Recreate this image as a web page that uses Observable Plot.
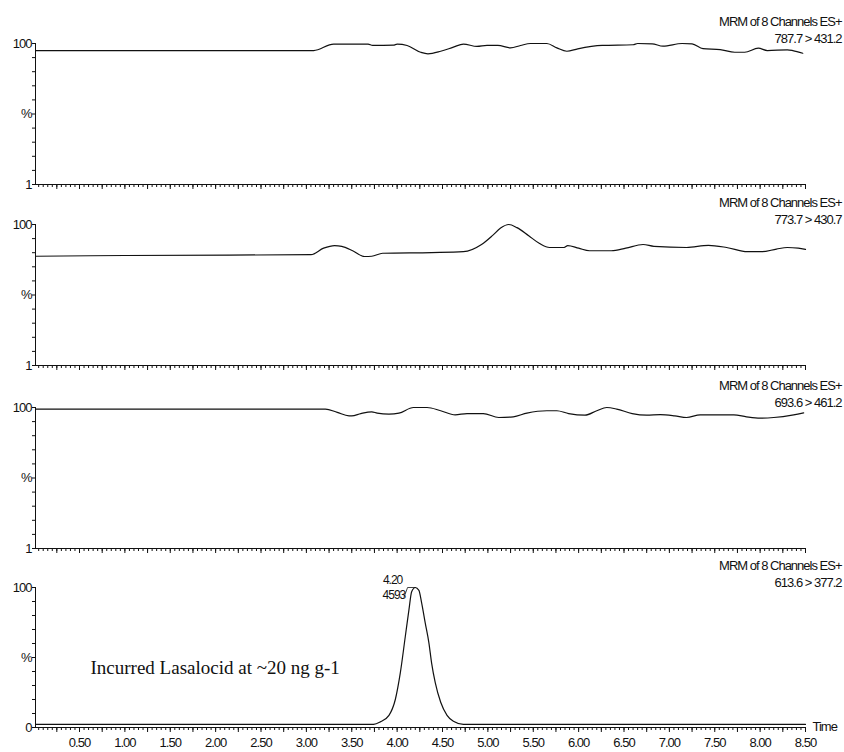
<!DOCTYPE html>
<html><head><meta charset="utf-8">
<script src="https://cdn.jsdelivr.net/npm/d3@7"></script>
<script src="https://cdn.jsdelivr.net/npm/@observablehq/plot@0.6"></script>
<style>
body{margin:0;background:#fff;}
#chart{position:relative;width:844px;height:752px;overflow:hidden;}
#chart svg{position:absolute;left:0;}
#chart svg g[font-family*="Serif"]{letter-spacing:0;}
</style></head><body><div id="chart"></div>
<script>
// ---- data ----
const xDomain = [0.015, 8.5];
const channelHeader = "MRM of 8 Channels ES+";
const channelLabels = ["787.7 > 431.2", "773.7 > 430.7", "693.6 > 461.2", "613.6 > 377.2"];
const yBottomLabels = ["1", "1", "1", "0"];
const xTicks = [0.5, 1, 1.5, 2, 2.5, 3, 3.5, 4, 4.5, 5, 5.5, 6, 6.5, 7, 7.5, 8, 8.5];
const xTickLabels = ["0.50","1.00","1.50","2.00","2.50","3.00","3.50","4.00","4.50","5.00","5.50","6.00","6.50","7.00","7.50","8.00","8.50"];
const xAxisTitle = "Time";

const t1 = [0.015, 3.08, 3.30, 3.68, 3.73, 3.96, 4.00, 4.11, 4.26, 4.34, 4.48, 4.62, 4.73, 4.88, 4.99, 5.11, 5.25, 5.36, 5.47, 5.65, 5.76, 5.87, 5.99, 6.26, 6.60, 6.65, 6.81, 6.93, 7.14, 7.25, 7.37, 7.56, 7.72, 7.83, 7.98, 8.08, 8.30, 8.36, 8.47];
const v1 = [95, 95, 99.6, 99.6, 98.6, 98.8, 99.6, 98.6, 93.8, 92.7, 94.5, 97.4, 99.6, 97.9, 98.6, 98.6, 96.9, 98.6, 100, 100, 96.9, 94.5, 96.2, 98.6, 99.1, 100, 99.8, 98.1, 100, 99.8, 96.3, 95.7, 93.8, 93.8, 96.7, 95, 95.5, 95, 93.1];

const t2 = [0.015, 1.0, 3.05, 3.19, 3.31, 3.39, 3.51, 3.64, 3.72, 3.84, 4.38, 4.73, 4.93, 5.05, 5.14, 5.23, 5.32, 5.45, 5.57, 5.68, 5.84, 5.88, 6.00, 6.12, 6.36, 6.52, 6.71, 6.83, 7.19, 7.43, 7.63, 7.86, 8.02, 8.18, 8.30, 8.42, 8.50];
const v2 = [77.5, 78, 78.6, 83.2, 85, 84.5, 81.4, 77.3, 77.5, 79.6, 80.1, 80.7, 85.8, 92.1, 97.5, 100, 97.8, 92, 86.5, 83.7, 83.7, 85, 83.2, 81.4, 81.4, 83.2, 85.8, 84.5, 83.7, 85.2, 83.7, 80.7, 80.7, 82.6, 83.7, 83.2, 82.4];

const t3 = [0.015, 3.21, 3.34, 3.47, 3.50, 3.60, 3.72, 3.78, 3.91, 4.02, 4.18, 4.33, 4.48, 4.64, 4.77, 4.95, 5.12, 5.28, 5.43, 5.65, 5.76, 5.89, 6.07, 6.20, 6.31, 6.42, 6.59, 6.75, 6.90, 7.06, 7.19, 7.34, 7.52, 7.71, 7.85, 8.00, 8.15, 8.37, 8.48];
const v3 = [98.9, 98.9, 96.5, 94.1, 94.1, 95.7, 96.9, 96, 95.3, 96, 100, 100, 97.7, 94.8, 95.7, 95.7, 92.9, 93.4, 96, 97.7, 97.7, 95.7, 94.6, 97.7, 100, 98.9, 95.7, 94.6, 95, 94.1, 92.9, 94.8, 94.8, 94.8, 93.4, 92.5, 92.9, 94.8, 96.2];

const t4 = [0.015, 3.74, 3.815, 3.91, 3.98, 4.035, 4.09, 4.13, 4.16, 4.20, 4.24, 4.27, 4.31, 4.35, 4.38, 4.42, 4.48, 4.55, 4.62, 4.73, 8.50];
const v4 = [2.2, 2.2, 4, 8.7, 20, 39, 65, 84, 97, 100, 98, 89, 74.6, 60.5, 46, 32, 18, 8.7, 4.4, 2.2, 2.2];

const peakHeights = [4593];
const annotationText = "Incurred Lasalocid at ~20 ng g-1";

// ---- layout ----
const frameTops = [43, 224, 407, 587];
const frameHeights = [141, 141, 141, 140];
const series = [[t1, v1], [t2, v2], [t3, v3], [t4, v4]].map(([t, v]) => t.map((d, i) => ({t: d, v: v[i]})));
const yTicks = d3.range(0, 101, 10);
const minorTicks = d3.range(1, 171).map(k => k * 5 / 100);
const majorTicks = d3.range(1, 35).map(k => k * 25 / 100);
const ink = "#111";

function panel(i) {
  const last = i === 3;
  const MT = 40, MB = last ? 28 : 8, H = frameHeights[i];
  const data = series[i];
  const marks = [
    Plot.axisY({ticks: yTicks, tickSize: 3, tickPadding: 1, stroke: ink,
      tickFormat: d => d === 100 ? "100" : d === 50 ? "%" : d === 0 ? yBottomLabels[i] : "", label: null}),
    Plot.axisX({ticks: minorTicks, tickSize: 3, tickFormat: () => "", label: null, stroke: ink}),
    Plot.axisX({ticks: majorTicks, tickSize: 5, tickFormat: () => "", label: null, stroke: ink}),
    Plot.ruleY([0], {stroke: ink}),
    Plot.ruleX([xDomain[0]], {stroke: ink}),
    Plot.line(data, {x: "t", y: "v", curve: "monotone-x", stroke: ink, strokeWidth: 1.2}),
    Plot.text([channelHeader], {frameAnchor: "top-right", textAnchor: "end", dx: 36, dy: -27, fill: ink}),
    Plot.text([channelLabels[i]], {frameAnchor: "top-right", textAnchor: "end", dx: 36, dy: -10, fill: ink})
  ];
  if (last) {
    const ai = d3.maxIndex(data, d => d.v);
    const apex = data[ai];
    marks.push(
      Plot.axisX({ticks: xTicks, tickSize: 0, tickPadding: 10, tickFormat: (d) => xTickLabels[xTicks.indexOf(d)], label: null}),
      Plot.text([xAxisTitle], {frameAnchor: "bottom-right", textAnchor: "start", dx: 7, dy: 3, fill: ink}),
      Plot.line([{t: apex.t - 0.125, v: apex.v - 7}, {t: apex.t - 0.085, v: apex.v}, {t: apex.t, v: apex.v}], {x: "t", y: "v", stroke: ink, strokeWidth: 0.8}),
      Plot.text([apex], {x: "t", y: "v", text: d => d.t.toFixed(2), textAnchor: "end", dx: -13, dy: -7, fontSize: 12, fill: ink}),
      Plot.text([apex], {x: "t", y: "v", text: () => String(peakHeights[0]), textAnchor: "end", dx: -10, dy: 8, fontSize: 12, fill: ink}),
      Plot.text([annotationText], {frameAnchor: "left", textAnchor: "start", dx: 55, dy: 10,
        fontFamily: "'Liberation Serif', 'Times New Roman', serif", fontSize: 19, fill: ink})
    );
  }
  const svg = Plot.plot({
    width: 844, height: MT + H + MB,
    marginLeft: 35, marginRight: 39, marginTop: MT, marginBottom: MB,
    x: {domain: xDomain, label: null},
    y: {domain: [0, 100], label: null},
    style: {background: "transparent", overflow: "visible", fontFamily: "'Liberation Sans', Arial, sans-serif",
      fontSize: "13px", letterSpacing: "-1px", color: ink},
    marks
  });
  svg.style.top = (frameTops[i] - MT) + "px";
  return svg;
}

const chart = document.getElementById("chart");
for (let i = 0; i < 4; i++) chart.appendChild(panel(i));
</script>
</body></html>
